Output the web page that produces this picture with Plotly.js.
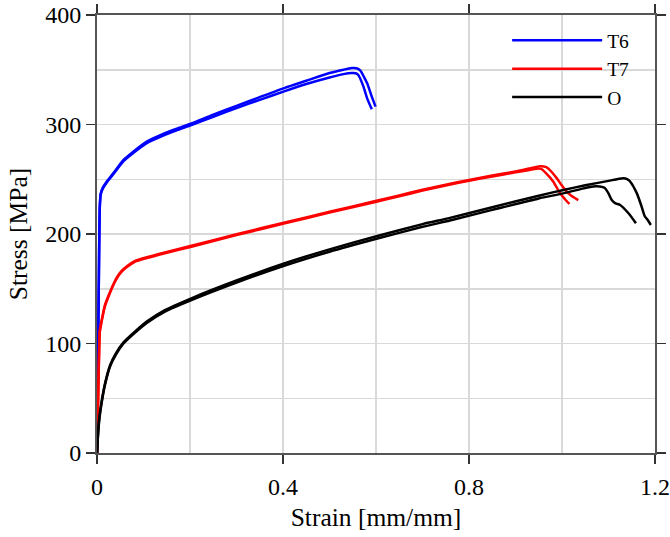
<!DOCTYPE html>
<html>
<head>
<meta charset="utf-8">
<script src="https://cdn.plot.ly/plotly-3.0.1.min.js"></script>
<style>html,body{margin:0;padding:0;background:#fff;}#chart{width:670px;height:537px;}</style>
</head>
<body>
<div id="chart"></div>
<script>
// ---- Data ----
const seriesNames = ['T6', 'T7', 'O'];
const seriesColors = ['#0000ff', '#ff0000', '#000000'];

// T6 specimens
const t6aStrain = [0, 0.002, 0.004, 0.006, 0.008, 0.012, 0.021, 0.035, 0.057, 0.078, 0.107, 0.14, 0.17, 0.203, 0.25, 0.3, 0.35, 0.404, 0.45, 0.5, 0.53, 0.548, 0.558, 0.566, 0.574, 0.581, 0.591, 0.599];
const t6aStress = [0, 80, 160, 225, 237, 242, 248, 255.4, 267.6, 275.2, 284.4, 291, 296, 301, 309, 317, 325, 333.5, 340, 347, 350, 351.5, 351.3, 349.5, 343.5, 337.6, 325.4, 316.3];
const t6bStrain = [0, 0.002, 0.004, 0.006, 0.008, 0.012, 0.021, 0.035, 0.057, 0.078, 0.107, 0.14, 0.17, 0.203, 0.25, 0.3, 0.35, 0.404, 0.45, 0.5, 0.53, 0.548, 0.556, 0.562, 0.573, 0.581, 0.591];
const t6bStress = [0, 80, 160, 224, 236, 241, 247, 254.5, 266.5, 274, 283, 289.5, 294.5, 299.5, 307, 315, 322.5, 330.5, 337, 343, 346, 347, 346.8, 345.2, 334.6, 323.9, 313.9];

// T7 specimens
const t7aStrain = [0, 0.003, 0.005, 0.006, 0.01, 0.017, 0.025, 0.032, 0.042, 0.053, 0.065, 0.082, 0.107, 0.146, 0.203, 0.3, 0.404, 0.5, 0.601, 0.65, 0.7, 0.75, 0.8, 0.85, 0.9, 0.93, 0.945, 0.955, 0.967, 0.981, 0.996, 1.006, 1.016];
const t7aStress = [0, 60, 100, 110, 120, 134, 143, 150.4, 159, 165.6, 170, 174.7, 178, 182.4, 188.4, 199, 209.7, 219.5, 229.5, 234.5, 239.6, 244.3, 248.6, 252.6, 256.3, 258.5, 259.6, 259.5, 255, 248, 237.1, 232, 227.4];
const t7bStrain = [0, 0.003, 0.005, 0.006, 0.01, 0.017, 0.025, 0.032, 0.042, 0.053, 0.065, 0.082, 0.107, 0.146, 0.203, 0.3, 0.404, 0.5, 0.601, 0.65, 0.7, 0.75, 0.8, 0.85, 0.9, 0.93, 0.953, 0.966, 0.974, 0.989, 0.999, 1.01, 1.02, 1.035];
const t7bStress = [0, 62, 102, 112, 121, 135, 144, 151, 160, 166.3, 170.8, 175.5, 178.8, 183.2, 189.2, 199.8, 210.5, 220.3, 230.3, 235.3, 240.4, 245.1, 249.4, 253.4, 257.1, 259.8, 261.8, 261, 258.4, 250.8, 244.7, 238.6, 235, 231];

// O specimens
const oaStrain = [0, 0.002, 0.005, 0.01, 0.017, 0.028, 0.04, 0.057, 0.082, 0.107, 0.146, 0.203, 0.3, 0.404, 0.5, 0.601, 0.7, 0.759, 0.85, 0.95, 1.003, 1.05, 1.1, 1.12, 1.132, 1.14, 1.146, 1.161, 1.171, 1.178, 1.184, 1.191];
const oaStress = [0, 16, 32, 47, 63, 80, 90.5, 101, 111, 120, 130.5, 141.3, 157.5, 173.3, 186, 198, 209, 214.7, 224.5, 235, 240.2, 244.5, 248.5, 250.2, 250.8, 250.2, 248.2, 237.1, 225.3, 216.2, 213, 208.2];
const obStrain = [0, 0.002, 0.005, 0.01, 0.017, 0.028, 0.04, 0.057, 0.082, 0.107, 0.146, 0.203, 0.3, 0.404, 0.5, 0.601, 0.7, 0.759, 0.85, 0.95, 1.003, 1.04, 1.06, 1.075, 1.092, 1.1, 1.107, 1.115, 1.125, 1.143, 1.159];
const obStress = [0, 15, 31, 46, 62, 79, 89.5, 100, 110, 118.8, 129.2, 139.7, 155.7, 171.2, 183.8, 195.6, 206.6, 212.3, 222, 232.5, 237.1, 241, 243, 243.5, 242, 237.1, 231, 228, 226.5, 218.9, 209.8];

// Axis ticks
const xTickVals = [0, 0.4, 0.8, 1.2];
const xTickText = ['0', '0.4', '0.8', '1.2'];
const yTickVals = [0, 100, 200, 300, 400];
const yTickText = ['0', '100', '200', '300', '400'];

// ---- Traces ----
const specimens = [
  {x: t6aStrain, y: t6aStress, s: 0, show: true},
  {x: t6bStrain, y: t6bStress, s: 0, show: false},
  {x: t7aStrain, y: t7aStress, s: 1, show: true},
  {x: t7bStrain, y: t7bStress, s: 1, show: false},
  {x: oaStrain, y: oaStress, s: 2, show: true},
  {x: obStrain, y: obStress, s: 2, show: false}
];
const traces = specimens.map(sp => ({
  type: 'scatter', mode: 'lines',
  x: sp.x, y: sp.y,
  name: seriesNames[sp.s],
  legendgroup: seriesNames[sp.s],
  showlegend: sp.show,
  line: {color: seriesColors[sp.s], width: 2.5, shape: 'spline', smoothing: 0.6}
}));

const FONT = 'Liberation Serif, Times New Roman, serif';
const layout = {
  width: 670, height: 537,
  margin: {l: 97, r: 15, t: 15, b: 84},
  paper_bgcolor: '#ffffff', plot_bgcolor: '#ffffff',
  font: {family: FONT, color: '#000', size: 24},
  showlegend: true,
  legend: {
    x: 0.735, y: 0.986, xanchor: 'left', yanchor: 'top',
    bgcolor: 'rgba(0,0,0,0)', borderwidth: 0,
    font: {family: FONT, size: 19.5, color: '#000'},
    itemwidth: 90, tracegroupgap: 0
  },
  xaxis: {
    range: [0, 1.2],
    tickmode: 'array', tickvals: xTickVals, ticktext: xTickText,
    ticks: 'outside', ticklen: 9, tickwidth: 1.5, tickcolor: '#333',
    ticklabelstandoff: 2,
    showline: true, linecolor: '#555', linewidth: 2, mirror: 'ticks',
    showgrid: true, gridcolor: '#d9d9d9', gridwidth: 1.5,
    minor: {dtick: 0.2, tick0: 0, showgrid: true, gridcolor: '#d9d9d9', gridwidth: 1.5, ticklen: 0},
    zeroline: false,
    tickfont: {family: FONT, size: 24, color: '#000'},
    title: {text: 'Strain [mm/mm]', font: {family: FONT, size: 25.5, color: '#000'}, standoff: 9}
  },
  yaxis: {
    range: [0, 400],
    tickmode: 'array', tickvals: yTickVals, ticktext: yTickText,
    ticks: 'outside', ticklen: 9, tickwidth: 1.5, tickcolor: '#333',
    showline: true, linecolor: '#555', linewidth: 2, mirror: 'ticks',
    showgrid: true, gridcolor: '#d9d9d9', gridwidth: 1.5,
    minor: {dtick: 50, tick0: 0, showgrid: true, gridcolor: '#d9d9d9', gridwidth: 1.5, ticklen: 0},
    zeroline: false,
    tickfont: {family: FONT, size: 24, color: '#000'},
    title: {text: 'Stress [MPa]', font: {family: FONT, size: 25.5, color: '#000'}, standoff: 10}
  }
};

Plotly.newPlot('chart', traces, layout, {displayModeBar: false, staticPlot: true});
</script>
</body>
</html>
